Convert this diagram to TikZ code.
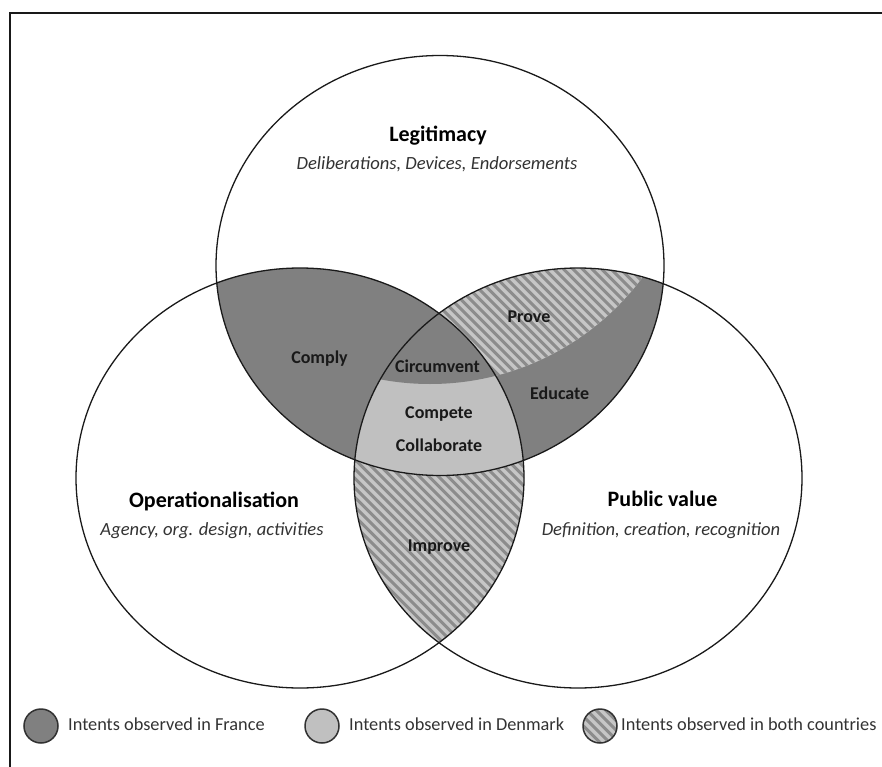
\documentclass[tikz,border=0pt]{standalone}
\usepackage{fontspec}
\setmainfont{Carlito}
\definecolor{darkc}{HTML}{808080}
\definecolor{lightc}{HTML}{C0C0C0}
\definecolor{hatchbase}{HTML}{C6C6C6}
\definecolor{hatchline}{HTML}{8C8C8C}
\definecolor{outline}{HTML}{1A1A1A}
\newcommand\tophere{(440,265.5) ellipse [x radius=224, y radius=210]}
\newcommand\lefthere{(300,478) ellipse [x radius=224, y radius=210]}
\newcommand\righthere{(578,478) ellipse [x radius=224, y radius=210]}
\newcommand\dividerhere{(430,119) circle [radius=265]}
\newcommand\myhatch[4]{%
  \fill[hatchbase] (#1,#2) rectangle (#3,#4);
  \foreach \k in {-90,...,95} {\draw[stripe] (\k*9.5,0) -- ++(800,800);}}
\begin{document}
\begin{tikzpicture}[x=1pt,y=-1pt,
  stripe/.style={draw=hatchline, line width=3pt},
  ring/.style={draw=outline, line width=1.3pt},
  title/.style={font=\fontsize{22}{26}\selectfont\bfseries, anchor=base, inner sep=0pt},
  subt/.style={font=\fontsize{18.6}{22}\selectfont\itshape, text=black!80, anchor=base, inner sep=0pt},
  lab/.style={font=\fontsize{18}{22}\selectfont\bfseries, anchor=base, inner sep=0pt, text=black!90},
  leg/.style={font=\fontsize{18.3}{22}\selectfont, text=black!80, anchor=base west, inner sep=0pt},
  legring/.style={draw=outline!90, line width=1.5pt}]
\useasboundingbox (0,0) rectangle (882,767);
\fill[white] (0,0) rectangle (882,767);
% hatched left-right lens
\begin{scope}\clip \lefthere; \clip \righthere; \myhatch{300}{250}{600}{700}\end{scope}
% top-right lens dark
\begin{scope}\clip \tophere; \fill[darkc] \righthere;\end{scope}
% hatched part of top-right lens
\begin{scope}\clip \tophere; \clip \righthere; \clip \dividerhere; \myhatch{380}{200}{700}{420}\end{scope}
% top-left lens dark
\begin{scope}\clip \tophere; \fill[darkc] \lefthere;\end{scope}
% triple region light
\begin{scope}\clip \tophere; \clip \lefthere; \fill[lightc] \righthere;\end{scope}
% upper triple region dark
\begin{scope}\clip \tophere; \clip \lefthere; \clip \righthere; \fill[darkc] \dividerhere;\end{scope}
% outlines
\draw[ring] \tophere;
\draw[ring] \lefthere;
\draw[ring] \righthere;
% texts
\node[title] (tLeg) at (438,142) {Legitimacy};
\node[subt] (sLeg) at (437,170) {Deliberations, Devices, Endorsements};
\node[title] (tOp) at (214,507.7) {Operationalisation};
\node[subt] (sOp) at (212,535) {Agency, org. design, activities};
\node[title] (tPv) at (662.5,506.7) {Public value};
\node[subt] (sPv) at (661,535) {Definition, creation, recognition};
\node[lab] (comply) at (319.5,363) {Comply};
\node[lab] (prove) at (529,322.7) {Prove};
\node[lab] (circ) at (437.5,372.7) {Circumvent};
\node[lab] (educ) at (559.7,399.3) {Educate};
\node[lab] (comp) at (439,418.3) {Compete};
\node[lab] (coll) at (439,451.7) {Collaborate};
\node[lab] (impr) at (439,551.7) {Improve};
% legend
\fill[darkc] (41,726) circle [radius=17];
\draw[legring] (41,726) circle [radius=17];
\node[leg] (lgF) at (68,730) {Intents observed in France};
\fill[lightc] (322,726) circle [radius=17];
\draw[legring] (322,726) circle [radius=17];
\node[leg] (lgD) at (349,730) {Intents observed in Denmark};
\begin{scope}\clip (600,726) circle [radius=17]; \myhatch{580}{700}{630}{750}\end{scope}
\draw[legring] (600,726) circle [radius=17];
\node[leg] (lgB) at (621,730) {Intents observed in both countries};
% frame
\draw[line width=2pt, draw=black!90] (10,800) -- (10,13) -- (900,13);
\end{tikzpicture}
\end{document}
